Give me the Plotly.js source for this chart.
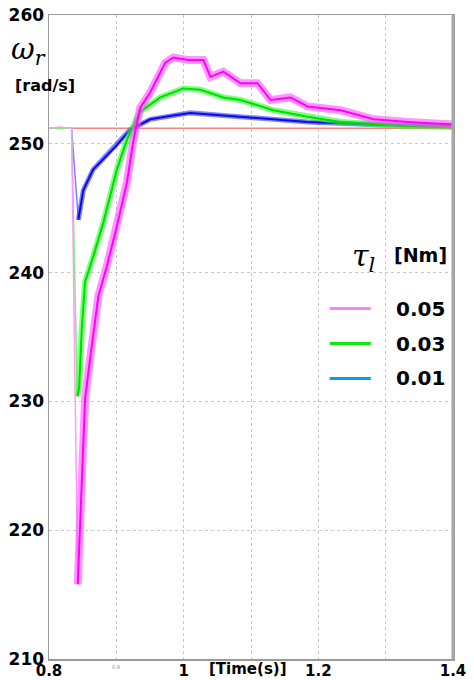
<!DOCTYPE html>
<html>
<head>
<meta charset="utf-8">
<script src="https://cdn.plot.ly/plotly-3.0.1.min.js"></script>
<style>html,body{margin:0;padding:0;background:#fff;}#chart{width:474px;height:680px;}</style>
</head>
<body>
<div id="chart"></div>
<script>
// ---- data ----
const refLevel = 251.2;
const xTickVals = [0.8, 1.0, 1.2, 1.4];
const xTickText = ['0.8', '1', '1.2', '1.4'];
const xMinorVals = [0.9, 1.1, 1.3];
const yTickVals = [210, 220, 230, 240, 250, 260];
const legendLabels = ['0.05', '0.03', '0.01'];

const magT = [0.8, 0.815, 0.8335, 0.8427, 0.8487, 0.8536, 0.861, 0.8734, 0.8859, 0.9008, 0.9157, 0.9255, 0.9355, 0.9504, 0.9727, 0.9846, 1.007, 1.0293, 1.0397, 1.059, 1.0844, 1.1097, 1.129, 1.1588, 1.184, 1.2332, 1.2824, 1.333, 1.4];
const magV = [251.2, 251.3, 251.2, 215.8, 224.0, 230.2, 233.3, 238.2, 240.5, 243.6, 247.0, 250.3, 252.8, 254.0, 256.3, 256.7, 256.5, 256.5, 255.2, 255.6, 254.7, 254.7, 253.4, 253.6, 252.9, 252.6, 251.9, 251.7, 251.5];

const grnT = [0.8, 0.8335, 0.8421, 0.8447, 0.8487, 0.8536, 0.866, 0.8808, 0.9008, 0.9157, 0.9355, 0.9653, 0.9995, 1.0248, 1.059, 1.0844, 1.1335, 1.184, 1.2332, 1.3225, 1.4];
const grnV = [251.2, 251.2, 230.4, 231.0, 235.6, 239.3, 241.3, 243.9, 248.0, 250.3, 252.5, 253.6, 254.3, 254.2, 253.6, 253.4, 252.6, 252.1, 251.7, 251.4, 251.3];

const bluT = [0.8, 0.8335, 0.8436, 0.851, 0.8655, 0.9008, 0.9206, 0.9504, 0.9846, 1.01, 1.059, 1.1097, 1.184, 1.278, 1.4];
const bluV = [251.2, 251.2, 244.1, 246.4, 248.0, 249.9, 251.1, 251.9, 252.2, 252.4, 252.2, 252.0, 251.7, 251.5, 251.4];

// ---- build traces ----
function split(t, v) {
  let iMin = 0;
  v.forEach((val, i) => { if (val < v[iMin]) iMin = i; });
  return {
    drop: {x: t.slice(0, iMin + 1), y: v.slice(0, iMin + 1)},
    rise: {x: t.slice(iMin), y: v.slice(iMin)}
  };
}
const series = [
  {t: bluT, v: bluV, core: '#0a0ae6', band: 'rgba(50,50,255,0.6)', bw: 5, drop: '#8080ff', leg: '#00a2e8'},
  {t: grnT, v: grnV, core: '#00dd00', band: 'rgba(40,255,40,0.6)', bw: 6, drop: '#7cf07c', leg: '#11e611'},
  {t: magT, v: magV, core: '#ff00ff', band: 'rgba(255,80,255,0.6)', bw: 8, drop: '#ff99ff', leg: '#ff80ff'}
];
const traces = [];
traces.push({x: [0.8, 1.4], y: [refLevel, refLevel], mode: 'lines', line: {color: '#ff8080', width: 1.5}, showlegend: false, hoverinfo: 'skip'});
series.forEach(s => {
  const p = split(s.t, s.v);
  traces.push({x: p.drop.x, y: p.drop.y, mode: 'lines', line: {color: s.drop, width: 1.5}, showlegend: false});
  traces.push({x: p.rise.x, y: p.rise.y, mode: 'lines', line: {color: s.band, width: s.bw}, showlegend: false});
  traces.push({x: p.rise.x, y: p.rise.y, mode: 'lines', line: {color: s.core, width: 2}, showlegend: false});
});

const labFont = {family: 'DejaVu Sans, Verdana, sans-serif', size: 15, color: '#000', weight: 700};
const legY = [0.5442, 0.4899, 0.4357];
const legCol = [series[2].leg, series[1].leg, series[0].leg];

const shapes = [
  {type: 'line', xref: 'paper', yref: 'paper', x0: 1, x1: 1, y0: 0, y1: 1, line: {color: '#a8a8a8', width: 3}}
];
const annotations = [
  {xref: 'x', yref: 'paper', x: 0.9, y: 0, yshift: -3, yanchor: 'top', text: '0.9', showarrow: false, font: {family: 'DejaVu Sans', size: 5, color: '#888'}},
  {xref: 'x', yref: 'paper', x: 1.096, y: 0, yshift: 1, yanchor: 'top', text: '[Time(s)]', showarrow: false, font: {family: 'DejaVu Sans', size: 15, color: '#000', weight: 700}},
  {xref: 'paper', yref: 'paper', x: -0.1, y: 0.944, xanchor: 'left', yanchor: 'middle', text: '<i>ω</i><sub><i>r</i></sub>', showarrow: false, font: {family: 'DejaVu Serif', size: 29, color: '#000'}},
  {xref: 'paper', yref: 'paper', x: -0.09, y: 0.891, xanchor: 'left', yanchor: 'middle', text: '[rad/s]', showarrow: false, font: {family: 'DejaVu Sans', size: 16, color: '#000', weight: 700}},
  {xref: 'paper', yref: 'paper', x: 0.745, y: 0.624, xanchor: 'left', yanchor: 'middle', text: '<i>τ</i><sub><i>l</i></sub>', showarrow: false, font: {family: 'DejaVu Serif', size: 30, color: '#000'}},
  {xref: 'paper', yref: 'paper', x: 0.92, y: 0.628, xanchor: 'center', yanchor: 'middle', text: '[Nm]', showarrow: false, font: {family: 'DejaVu Sans', size: 19, color: '#000', weight: 700}}
];
legendLabels.forEach((lab, i) => {
  shapes.push({type: 'line', xref: 'paper', yref: 'paper', x0: 0.6948, x1: 0.7965, y0: legY[i], y1: legY[i], line: {color: legCol[i], width: 3}});
  annotations.push({xref: 'paper', yref: 'paper', x: 0.853, y: legY[i], xanchor: 'left', yanchor: 'middle', text: lab, showarrow: false, font: {family: 'DejaVu Sans', size: 20, color: '#000', weight: 700}});
});

const gridStyle = {showgrid: true, gridcolor: '#c8c8c8', griddash: 'dot', gridwidth: 1};
const layout = {
  width: 474, height: 680,
  margin: {l: 49, r: 21, t: 15, b: 21},
  paper_bgcolor: '#fff', plot_bgcolor: '#fff',
  showlegend: false,
  xaxis: Object.assign({range: [0.8, 1.4], tickvals: xTickVals, ticktext: xTickText,
          minor: Object.assign({tickvals: xMinorVals, ticks: ''}, gridStyle),
          zeroline: false, showline: true, linecolor: '#9a9a9a', linewidth: 1.5, mirror: true, ticks: '', tickfont: labFont, ticklabelstandoff: -3}, gridStyle),
  yaxis: Object.assign({range: [210, 260], tickvals: yTickVals,
          zeroline: false, showline: true, linecolor: '#9a9a9a', linewidth: 1.5, mirror: true, ticks: '', tickfont: {family: 'DejaVu Sans, Verdana, sans-serif', size: 17, color: '#000', weight: 700}, ticklabelstandoff: 0}, gridStyle),
  shapes: shapes,
  annotations: annotations
};
Plotly.newPlot('chart', traces, layout, {staticPlot: true, displayModeBar: false});
</script>
</body>
</html>
